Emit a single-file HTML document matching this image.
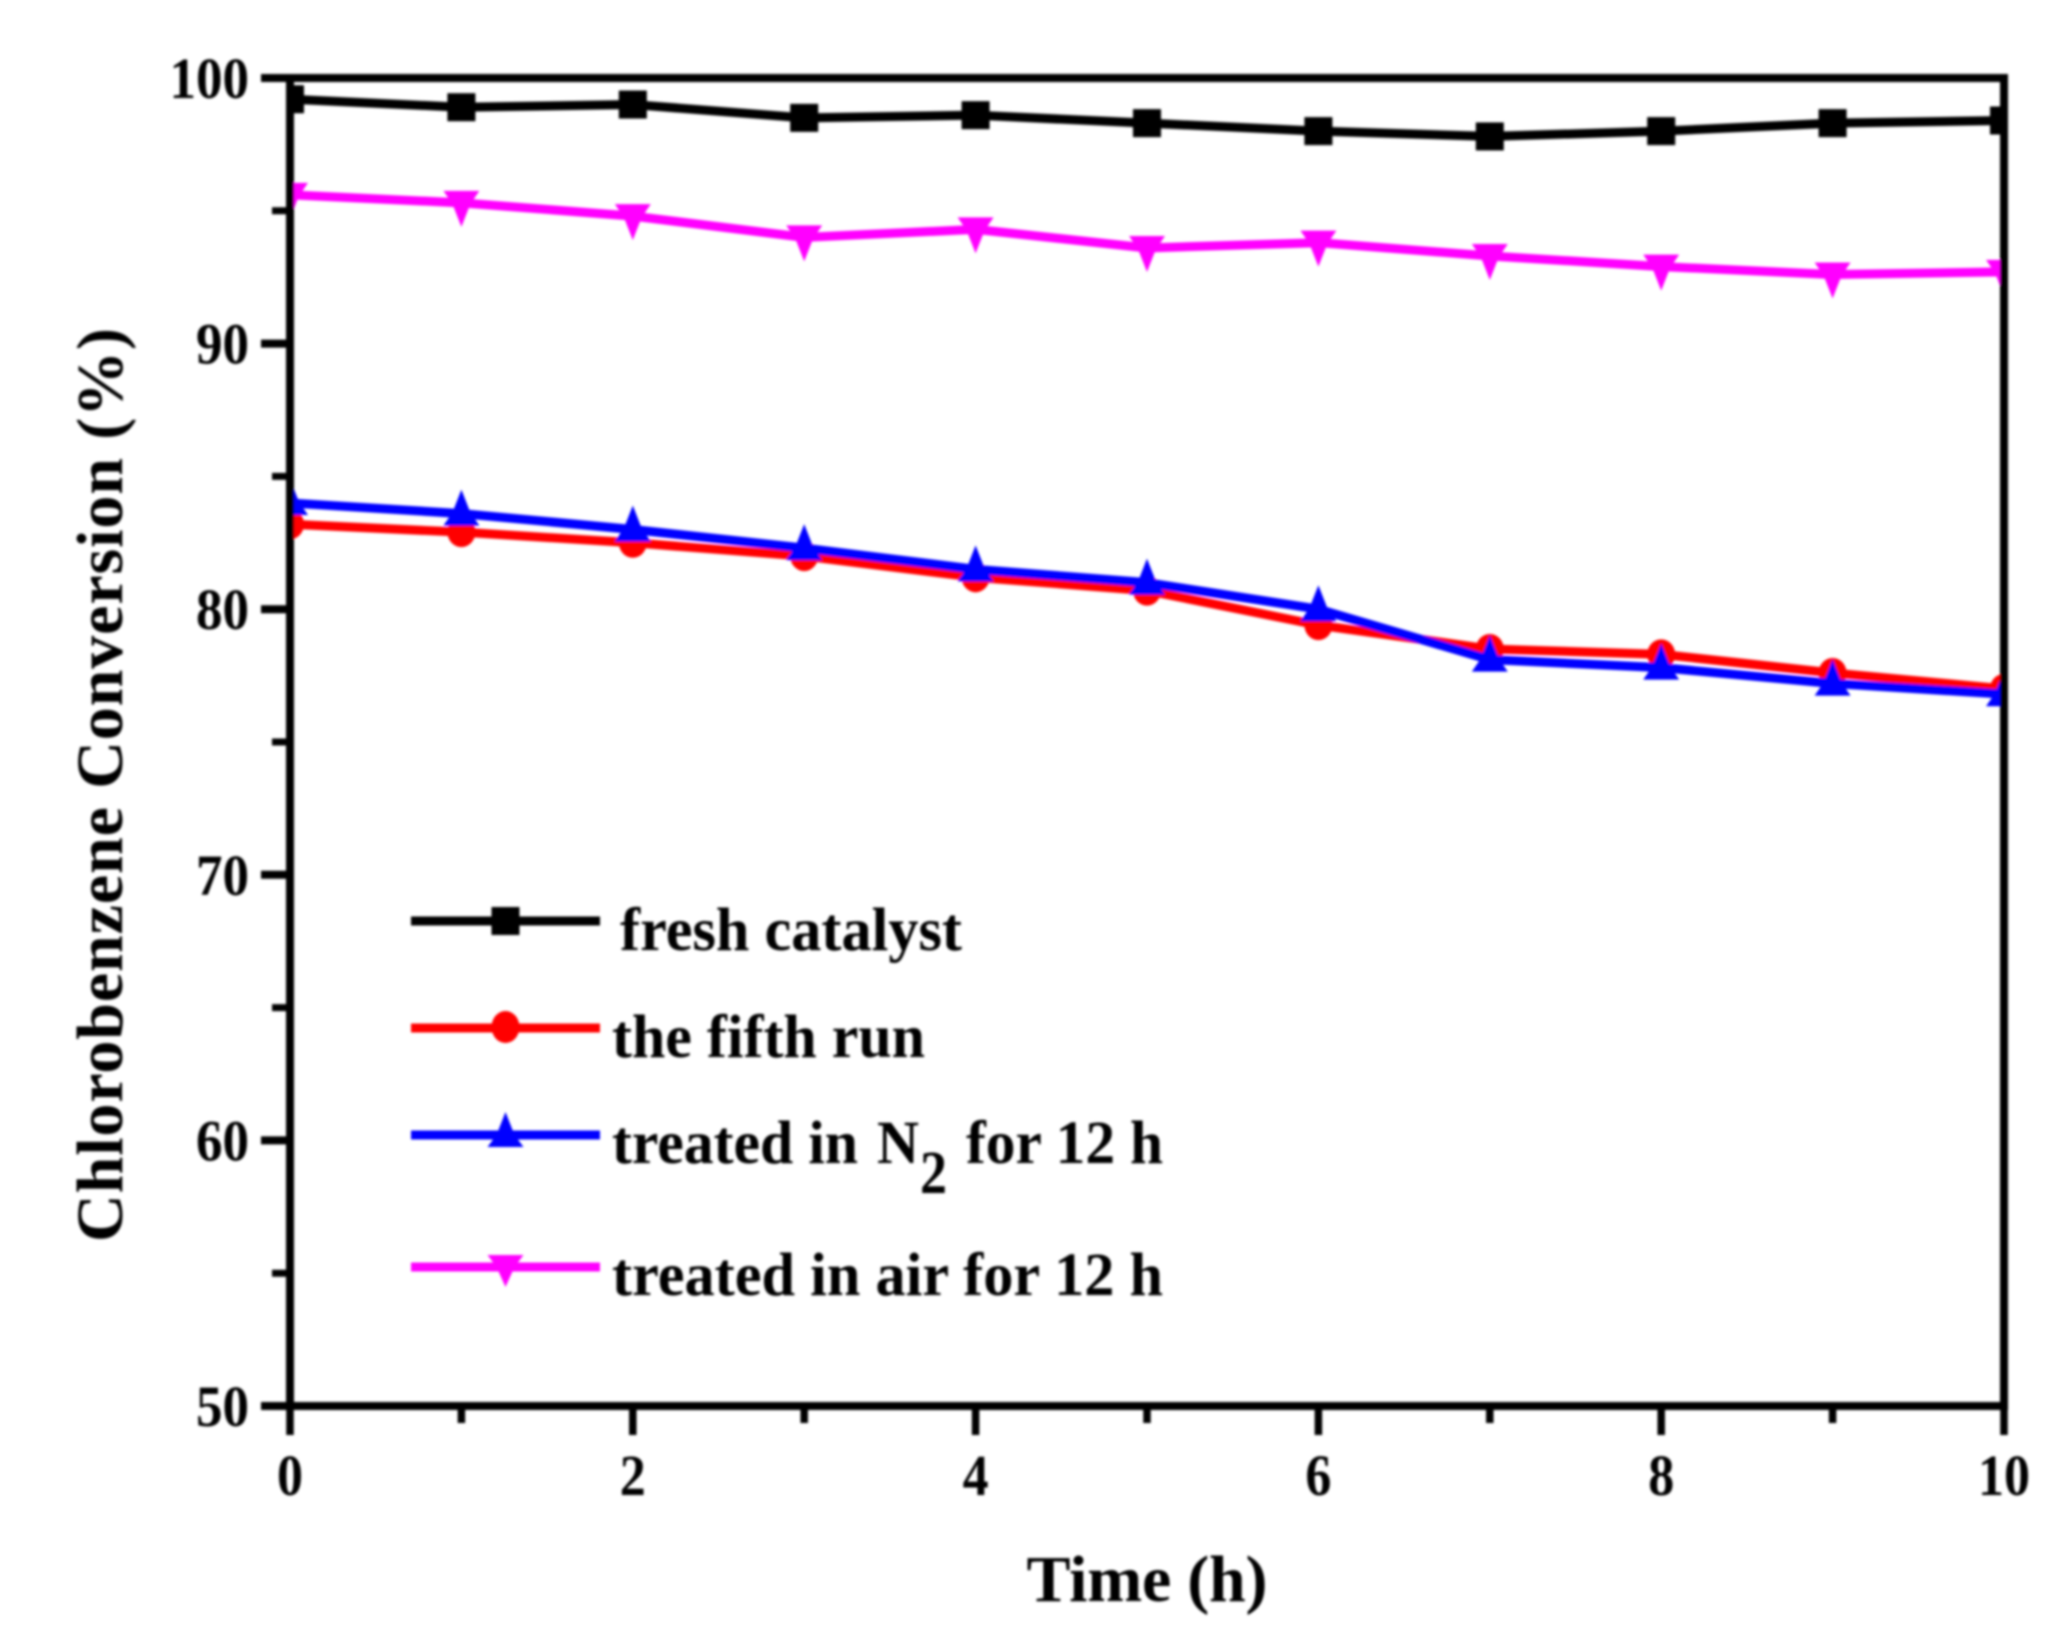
<!DOCTYPE html>
<html lang="en">
<head>
<meta charset="utf-8">
<title>Chlorobenzene Conversion vs Time</title>
<style>
  html, body { margin: 0; padding: 0; background: #fff; }
  svg { display: block; }
  text { font-family: "Liberation Serif", serif; font-weight: bold; fill: #000; }
</style>
</head>
<body>
<svg id="chart" width="2056" height="1650" viewBox="0 0 2056 1650" xmlns="http://www.w3.org/2000/svg">
  <defs>
    <filter id="soft" x="-5%" y="-5%" width="110%" height="110%"><feGaussianBlur stdDeviation="1.2"/></filter>
    <clipPath id="plot-clip"><rect x="288" y="78" width="1718" height="1328"/></clipPath>
  </defs>
  <rect width="2056" height="1650" fill="#fff"/>
  <g id="root" filter="url(#soft)">
    <g id="series" clip-path="url(#plot-clip)"></g>
    <g id="axes"></g>
    <text transform="translate(122 785) rotate(-90)" text-anchor="middle" font-size="66" textLength="914" lengthAdjust="spacing">Chlorobenzene Conversion (%)</text>
    <text x="1147" y="1601" text-anchor="middle" font-size="66" textLength="241" lengthAdjust="spacing">Time (h)</text>

    <g>
      <g>
        <line x1="411" x2="600" y1="921" y2="921" stroke="#000" stroke-width="9"/>
        <rect x="491.5" y="907" width="28" height="28" fill="#000"/>
        <text x="620" y="950" font-size="61" textLength="342" lengthAdjust="spacingAndGlyphs">fresh catalyst</text>
      </g>
      <g>
        <line x1="411" x2="600" y1="1028" y2="1028" stroke="#f00" stroke-width="9"/>
        <ellipse cx="505.5" cy="1027" rx="14" ry="16" fill="#f00"/>
        <text x="612" y="1057" font-size="61" textLength="313" lengthAdjust="spacingAndGlyphs">the fifth run</text>
      </g>
      <g>
        <line x1="411" x2="600" y1="1135" y2="1135" stroke="#00f" stroke-width="9"/>
        <polygon points="505.5,1112 514.5,1135 523.5,1147 487.5,1147 496.5,1135" fill="#00f"/>
        <text x="612" y="1163" font-size="61" textLength="246" lengthAdjust="spacingAndGlyphs">treated in</text>
        <text x="877" y="1163" font-size="61" textLength="42" lengthAdjust="spacingAndGlyphs">N</text>
        <text x="920" y="1193" font-size="61" textLength="27" lengthAdjust="spacingAndGlyphs">2</text>
        <text x="966" y="1163" font-size="61" textLength="197" lengthAdjust="spacingAndGlyphs">for 12 h</text>
      </g>
      <g>
        <line x1="411" x2="600" y1="1267" y2="1267" stroke="#f0f" stroke-width="9"/>
        <polygon points="505.5,1287 514.5,1267 523.5,1255 487.5,1255 496.5,1267" fill="#f0f"/>
        <text x="612" y="1295" font-size="61" textLength="551" lengthAdjust="spacingAndGlyphs">treated in air for 12 h</text>
      </g>
    </g>
  </g>
</svg>
<script>
const timeHours = [0, 1, 2, 3, 4, 5, 6, 7, 8, 9, 10];
const freshCatalyst = [99.2, 98.9, 99.0, 98.5, 98.6, 98.3, 98.0, 97.8, 98.0, 98.3, 98.4];
const fifthRun = [83.2, 82.9, 82.5, 82.0, 81.2, 80.7, 79.4, 78.5, 78.3, 77.6, 77.0];
const treatedN2 = [84.0, 83.6, 83.0, 82.3, 81.5, 81.0, 80.0, 78.1, 77.8, 77.2, 76.8];
const treatedAir = [95.6, 95.3, 94.8, 94.0, 94.3, 93.6, 93.8, 93.3, 92.9, 92.6, 92.7];
const xTickLabels = [0, 2, 4, 6, 8, 10];
const xMinorTicks = [1, 3, 5, 7, 9];
const yTickLabels = [50, 60, 70, 80, 90, 100];
const yMinorTicks = [55, 65, 75, 85, 95];

const NS = 'http://www.w3.org/2000/svg';
const xAxis = v => 290 + (v - 0) / 10 * (2004 - 290);
const yAxis = v => 1406 - (v - 50) / 50 * (1406 - 78);
const seriesLayer = document.getElementById('series');
const axesLayer = document.getElementById('axes');

function make(tag, parent, props) {
  const el = document.createElementNS(NS, tag);
  for (const k in props) el.setAttribute(k, props[k]);
  parent.appendChild(el);
  return el;
}

function drawSeries(name, values, color, shape) {
  const g = make('g', seriesLayer, {});
  
  
  const pts = values.map((v, i) => xAxis(timeHours[i]) + ',' + yAxis(v)).join(' ');
  const line = make('polyline', g, { points: pts, fill: 'none', stroke: color, 'stroke-width': 9, 'stroke-linejoin': 'round' });
  
  
  values.forEach((v, i) => {
    const cx = xAxis(timeHours[i]);
    const cy = yAxis(v);
    let m;
    if (shape === 'square') {
      m = make('rect', g, { x: cx - 14, y: cy - 14, width: 28, height: 28, fill: color });
    } else if (shape === 'circle') {
      m = make('ellipse', g, { cx: cx, cy: cy, rx: 14, ry: 15, fill: color });
    } else if (shape === 'up') {
      m = make('polygon', g, { points: [[0, -24], [9, -1], [18, 12], [-18, 12], [-9, -1]].map(p => (cx + p[0]) + ',' + (cy + p[1])).join(' '), fill: color });
    } else {
      m = make('polygon', g, { points: [[0, 24], [9, 1], [18, -12], [-18, -12], [-9, 1]].map(p => (cx + p[0]) + ',' + (cy + p[1])).join(' '), fill: color });
    }
    
    
  });
}

drawSeries('fresh-catalyst', freshCatalyst, '#000', 'square');
drawSeries('fifth-run', fifthRun, '#f00', 'circle');
drawSeries('treated-n2', treatedN2, '#00f', 'up');
drawSeries('treated-air', treatedAir, '#f0f', 'down');

const frame = make('rect', axesLayer, { x: 290, y: 78, width: 1714, height: 1328, fill: 'none', stroke: '#000', 'stroke-width': 8 });



xTickLabels.forEach(v => {
  const x = xAxis(v);
  const t = make('line', axesLayer, { x1: x, x2: x, y1: 1406, y2: 1435, stroke: '#000', 'stroke-width': 7.5 });
  
  
  const label = make('text', axesLayer, { x: x, y: 1495, 'text-anchor': 'middle', 'font-size': 58, textLength: String(v).length * 26, lengthAdjust: 'spacingAndGlyphs' });
  label.textContent = v;
  
  
});

xMinorTicks.forEach(v => {
  const x = xAxis(v);
  const t = make('line', axesLayer, { x1: x, x2: x, y1: 1406, y2: 1423, stroke: '#000', 'stroke-width': 7.5 });
  
  
});

yTickLabels.forEach(v => {
  const y = yAxis(v);
  const t = make('line', axesLayer, { x1: 261, x2: 290, y1: y, y2: y, stroke: '#000', 'stroke-width': 8 });
  
  
  const label = make('text', axesLayer, { x: 249, y: y + 20, 'text-anchor': 'end', 'font-size': 58, textLength: String(v).length * 26.5, lengthAdjust: 'spacingAndGlyphs' });
  label.textContent = v;
  
  
});

yMinorTicks.forEach(v => {
  const y = yAxis(v);
  const t = make('line', axesLayer, { x1: 272, x2: 290, y1: y, y2: y, stroke: '#000', 'stroke-width': 7 });
  
  
});
</script>
</body>
</html>
